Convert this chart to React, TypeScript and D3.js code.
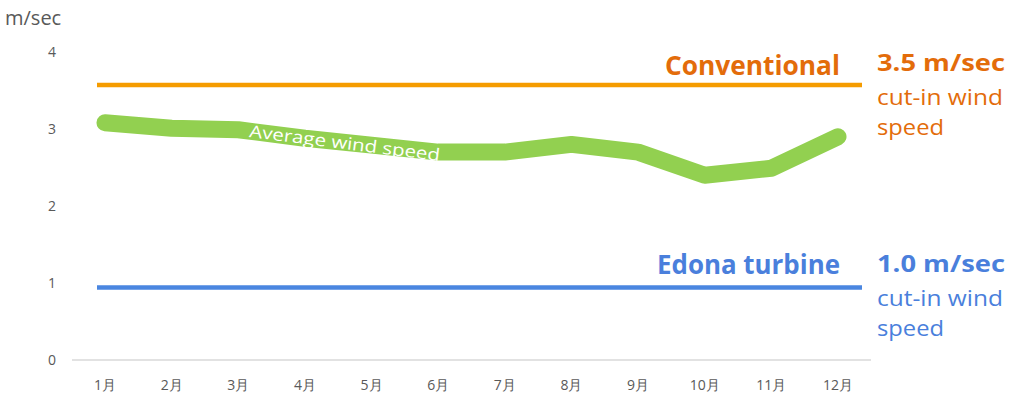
import React, { useEffect, useRef } from "react";
import * as d3 from "d3";

// Data
const months = ["1月", "2月", "3月", "4月", "5月", "6月", "7月", "8月", "9月", "10月", "11月", "12月"];
const avgWind = [3.08, 3.01, 2.99, 2.88, 2.79, 2.7, 2.7, 2.8, 2.7, 2.4, 2.49, 2.9];
const yTicks = [0, 1, 2, 3, 4];
const conventionalCutIn = 3.57;
const edonaCutIn = 0.94;

const FONT = "'Open Sans', 'Liberation Sans', sans-serif";

export default function App() {
	const ref = useRef<HTMLDivElement>(null);

	useEffect(() => {
		// drop the default body margin so the svg sits at 0,0
		document.body.style.margin = "0";

		const w = 1010;
		const h = 397;

		const xScale = d3.scalePoint<string>().domain(months).range([105, 838]);
		const yScale = d3.scaleLinear().domain([0, 4]).range([360, 52]);

		const svg = d3
			.select(ref.current)
			.html("")
			.append("svg")
			.attr("width", w)
			.attr("height", h)
			.style("display", "block")
			.style("background", "#fff");

		// unit label
		svg
			.append("text")
			.attr("x", 5)
			.attr("y", 25)
			.attr("fill", "#595959")
			.style("font-family", FONT)
			.style("font-size", "20px")
			.text("m/sec");

		// y ticks
		svg
			.selectAll(".ytick")
			.data(yTicks)
			.enter()
			.append("text")
			.attr("x", 56)
			.attr("y", d => yScale(d) + 5)
			.attr("text-anchor", "end")
			.attr("fill", "#595959")
			.style("font-family", FONT)
			.style("font-size", "14px")
			.text(d => d);

		// x axis line
		svg
			.append("line")
			.attr("x1", 72)
			.attr("x2", 871)
			.attr("y1", yScale(0))
			.attr("y2", yScale(0))
			.attr("stroke", "#d9d9d9")
			.attr("stroke-width", 1.5);

		// x labels
		svg
			.selectAll(".xtick")
			.data(months)
			.enter()
			.append("text")
			.attr("x", d => xScale(d)!)
			.attr("y", 390)
			.attr("text-anchor", "middle")
			.attr("fill", "#595959")
			.style("font-family", FONT)
			.style("font-size", "14px")
			.text(d => d);

		const lineStart = xScale(months[0])! - 8;
		const lineEnd = xScale(months[months.length - 1])! + 24;

		// cut-in lines
		svg
			.append("line")
			.attr("x1", lineStart)
			.attr("x2", lineEnd)
			.attr("y1", yScale(conventionalCutIn))
			.attr("y2", yScale(conventionalCutIn))
			.attr("stroke", "#f59c00")
			.attr("stroke-width", 4.5);

		svg
			.append("line")
			.attr("x1", lineStart)
			.attr("x2", lineEnd)
			.attr("y1", yScale(edonaCutIn))
			.attr("y2", yScale(edonaCutIn))
			.attr("stroke", "#4a86e0")
			.attr("stroke-width", 4.5);

		// average wind speed line
		const line = d3
			.line<number>()
			.x((_, i) => xScale(months[i])!)
			.y(d => yScale(d));

		svg
			.append("path")
			.datum(avgWind)
			.attr("d", line)
			.attr("fill", "none")
			.attr("stroke", "#92d050")
			.attr("stroke-width", 17)
			.attr("stroke-linecap", "round")
			.attr("stroke-linejoin", "round");

		svg
			.append("text")
			.attr("transform", "translate(344,149) rotate(7.2)")
			.attr("text-anchor", "middle")
			.attr("fill", "#fff")
			.style("font-family", FONT)
			.style("font-size", "17px")
			.attr("textLength", 192)
			.attr("lengthAdjust", "spacingAndGlyphs")
			.text("Average wind speed");

		// annotations
		const orange = "#e36c0a";
		const blue = "#4a7fdc";

		const annot = (
			x: number,
			y: number,
			txt: string,
			color: string,
			size: number,
			bold: boolean,
			anchor: string,
			len: number
		) =>
			svg
				.append("text")
				.attr("x", x)
				.attr("y", y)
				.attr("text-anchor", anchor)
				.attr("fill", color)
				.style("font-family", FONT)
				.style("font-size", `${size}px`)
				.style("font-weight", bold ? 700 : 400)
				.attr("textLength", len)
				.attr("lengthAdjust", "spacingAndGlyphs")
				.text(txt);

		annot(840, 75, "Conventional", orange, 26, true, "end", 175);
		annot(877, 71, "3.5 m/sec", orange, 23, true, "start", 128);
		annot(877, 105, "cut-in wind", orange, 21, false, "start", 126);
		annot(877, 135, "speed", orange, 21, false, "start", 67);

		annot(840, 274, "Edona turbine", blue, 26, true, "end", 183);
		annot(877, 272, "1.0 m/sec", blue, 23, true, "start", 128);
		annot(877, 306, "cut-in wind", blue, 21, false, "start", 126);
		annot(877, 336, "speed", blue, 21, false, "start", 67);
	}, []);

	return <div ref={ref}></div>;
}
